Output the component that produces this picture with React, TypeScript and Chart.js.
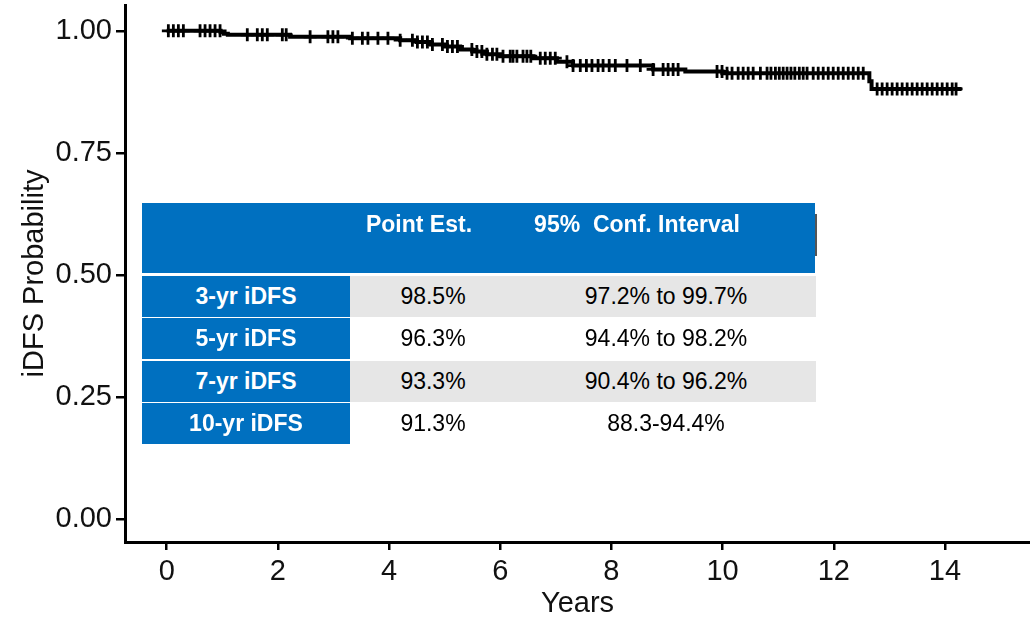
import React, { useEffect, useRef } from "react";
import { Chart, registerables } from "chart.js";

Chart.register(...registerables);

// Kaplan-Meier step curve: time (years) at which the estimate changes, and the new estimate
const stepYears = [0, 0.97, 1.03, 1.1, 2.22, 3.3, 4.2, 4.5, 4.75, 5.0, 5.28, 5.5, 5.76, 6.0, 6.6, 7.02, 7.31, 8.75, 9.33, 10.0, 12.64, 12.68, 14.3];
const stepSurvival = [1.0, 0.997, 0.994, 0.992, 0.988, 0.985, 0.981, 0.977, 0.972, 0.968, 0.962, 0.958, 0.952, 0.948, 0.944, 0.937, 0.929, 0.921, 0.917, 0.913, 0.897, 0.881, 0.881];

// Censoring times (years)
const censorYears = [
  0.03, 0.12, 0.21, 0.3, 0.6, 0.69, 0.78, 0.87, 0.96, 1.45, 1.63, 1.72, 1.81, 2.08, 2.15, 2.58,
  2.9, 2.99, 3.08, 3.34, 3.52, 3.62, 3.8, 3.98, 4.2, 4.42, 4.51, 4.6, 4.69, 4.78, 4.96, 5.05,
  5.14, 5.23, 5.49, 5.58, 5.67, 5.76, 5.86, 5.94, 6.05, 6.18, 6.23, 6.3, 6.41, 6.48, 6.55, 6.72,
  6.81, 6.9, 6.99, 7.2, 7.31, 7.44, 7.55, 7.65, 7.76, 7.85, 7.96, 8.07, 8.28, 8.52, 8.75, 8.93,
  9.02, 9.11, 9.2, 9.9, 9.99, 10.08, 10.17, 10.28, 10.37, 10.46, 10.55, 10.68, 10.8, 10.87, 10.95,
  11.02, 11.09, 11.16, 11.23, 11.3, 11.38, 11.45, 11.52, 11.63, 11.72, 11.81, 11.9, 11.99, 12.08,
  12.17, 12.26, 12.35, 12.44, 12.53, 12.78, 12.87, 12.96, 13.05, 13.14, 13.23, 13.32, 13.41, 13.5,
  13.59, 13.68, 13.77, 13.86, 13.95, 14.04, 14.13, 14.2,
];

const xTicks = [0, 2, 4, 6, 8, 10, 12, 14];
const yTicks = [0, 0.25, 0.5, 0.75, 1.0];

// Summary table
const headerLabels = ["", "Point Est.", "95%  Conf. Interval"];
const rowLabels = ["3-yr iDFS", "5-yr iDFS", "7-yr iDFS", "10-yr iDFS"];
const pointEstimates = ["98.5%", "96.3%", "93.3%", "91.3%"];
const confIntervals = ["97.2% to 99.7%", "94.4% to 98.2%", "90.4% to 96.2%", "88.3-94.4%"];

const FONT = "'Liberation Sans', Arial, Helvetica, sans-serif";
const BLUE = "#0070c0";
const GRAY = "#e6e6e6";

function survivalAt(t: number): number {
  let s = stepSurvival[0];
  for (let i = 0; i < stepYears.length; i++) {
    if (stepYears[i] <= t) s = stepSurvival[i];
  }
  return s;
}

function SummaryTable() {
  const rowTop = (i: number) => 275.5 + i * 42.5;
  const centered: React.CSSProperties = {
    position: "absolute",
    top: 0,
    height: "100%",
    display: "flex",
    alignItems: "center",
    justifyContent: "center",
    whiteSpace: "pre",
  };
  return (
    <>
      <div
        style={{
          position: "absolute",
          left: 142,
          top: 203,
          width: 673,
          height: 70,
          background: BLUE,
          color: "#fff",
          fontFamily: FONT,
          fontWeight: "bold",
          fontSize: 23,
        }}
      >
        <div style={{ ...centered, left: 419 - 142 - 90, width: 180, top: 8, height: 26 }}>{headerLabels[1]}</div>
        <div style={{ ...centered, left: 637 - 142 - 140, width: 280, top: 8, height: 26 }}>{headerLabels[2]}</div>
      </div>
      <div style={{ position: "absolute", left: 815, top: 214, width: 2, height: 42, background: "#555" }} />
      {rowLabels.map((label, i) => (
        <div
          key={label}
          style={{ position: "absolute", left: 142, top: rowTop(i), width: 674, height: 41, fontFamily: FONT, fontSize: 23 }}
        >
          <div
            style={{
              ...centered,
              left: 0,
              width: 208,
              background: BLUE,
              color: "#fff",
              fontWeight: "bold",
            }}
          >
            {label}
          </div>
          {i % 2 === 0 && (
            <div style={{ position: "absolute", left: 208, top: 0, width: 466, height: "100%", background: GRAY }} />
          )}
          <div style={{ ...centered, left: 433 - 142 - 80, width: 160, color: "#000" }}>{pointEstimates[i]}</div>
          <div style={{ ...centered, left: 666 - 142 - 130, width: 260, color: "#000" }}>{confIntervals[i]}</div>
        </div>
      ))}
    </>
  );
}

export default function App() {
  const canvasRef = useRef<HTMLCanvasElement | null>(null);

  useEffect(() => {
    document.body.style.margin = "0";
    const canvas = canvasRef.current;
    if (!canvas) return;

    const curve = stepYears.map((t, i) => ({ x: t, y: stepSurvival[i] }));
    const censored = censorYears.map((t) => ({ x: t, y: survivalAt(t) }));

    const chart = new Chart(canvas, {
      type: "line",
      data: {
        datasets: [
          {
            label: "iDFS",
            data: curve,
            stepped: "before",
            borderColor: "#000",
            borderWidth: 4,
            pointRadius: 0,
            fill: false,
          },
          {
            label: "Censored",
            data: censored,
            showLine: false,
            pointStyle: "cross",
            pointRadius: 6.5,
            pointBorderWidth: 2.8,
            pointBorderColor: "#000",
            pointBackgroundColor: "#000",
          },
        ],
      },
      options: {
        animation: false,
        responsive: false,
        maintainAspectRatio: false,
        devicePixelRatio: 1,
        layout: { autoPadding: false, padding: { top: 5, right: 0, left: 0, bottom: 0 } },
        plugins: { legend: { display: false }, tooltip: { enabled: false } },
        scales: {
          x: {
            type: "linear",
            min: -0.75,
            max: 15.53,
            afterBuildTicks: (scale: any) => {
              scale.ticks = xTicks.map((v) => ({ value: v }));
            },
            afterFit: (scale: any) => {
              scale.height = 76;
              scale.paddingLeft = 0;
              scale.paddingRight = 0;
            },
            grid: { display: true, drawOnChartArea: false, drawTicks: true, tickLength: 8, color: "#000", lineWidth: 2.5 },
            border: { display: true, color: "#000", width: 3 },
            ticks: {
              color: "#111",
              padding: 5,
              font: { family: FONT, size: 29 },
              callback: (v: any) => String(v),
            },
            title: {
              display: true,
              text: "Years",
              color: "#111",
              font: { family: FONT, size: 29, lineHeight: 1 },
              padding: { top: 0, bottom: 0 },
            },
          },
          y: {
            type: "linear",
            min: -0.047,
            max: 1.053,
            afterBuildTicks: (scale: any) => {
              scale.ticks = yTicks.map((v) => ({ value: v }));
            },
            afterFit: (scale: any) => {
              scale.width = 125;
              scale.paddingTop = 0;
              scale.paddingBottom = 0;
            },
            grid: { display: true, drawOnChartArea: false, drawTicks: true, tickLength: 9, color: "#000", lineWidth: 2.5 },
            border: { display: true, color: "#000", width: 3 },
            ticks: {
              color: "#111",
              padding: 4,
              font: { family: FONT, size: 29 },
              callback: (v: any) => Number(v).toFixed(2),
            },
            title: {
              display: true,
              text: "iDFS Probability",
              color: "#111",
              font: { family: FONT, size: 29, lineHeight: 1 },
              padding: { top: 20, bottom: 0 },
            },
          },
        },
      },
    });

    return () => chart.destroy();
  }, []);

  return (
    <div style={{ position: "relative", width: 1030, height: 618, background: "#fff" }}>
      <canvas ref={canvasRef} width={1030} height={618} style={{ display: "block" }} />
      <SummaryTable />
    </div>
  );
}
